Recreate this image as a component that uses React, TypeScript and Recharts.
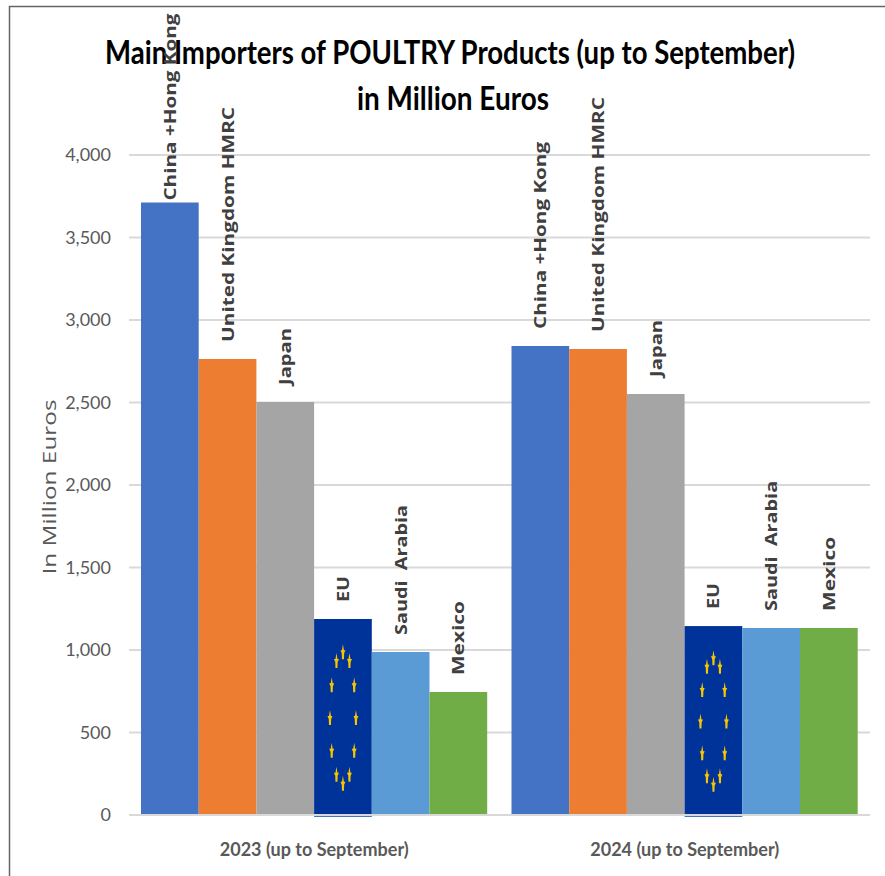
import React from 'react';
import { BarChart, Bar, XAxis, YAxis, CartesianGrid, LabelList } from 'recharts';

const PERIODS = ['2023 (up to September)', '2024 (up to September)'];
const CHINA = [3712, 2843];
const UK = [2764, 2824];
const JAPAN = [2503, 2552];
const EU = [1188, 1145];
const SAUDI = [988, 1134];
const MEXICO = [745, 1134];
const Y_TICKS = [0, 500, 1000, 1500, 2000, 2500, 3000, 3500, 4000];

const chartData = PERIODS.map((period, i) => ({
  period,
  china: CHINA[i],
  uk: UK[i],
  japan: JAPAN[i],
  eu: EU[i],
  saudi: SAUDI[i],
  mexico: MEXICO[i],
}));

const SERIES = [
  { key: 'china', name: 'China +Hong Kong', color: '#4472c4', labelLength: 187 },
  { key: 'uk', name: 'United Kingdom HMRC', color: '#ed7d31', labelLength: 235 },
  { key: 'japan', name: 'Japan', color: '#a5a5a5', labelLength: 57 },
  { key: 'eu', name: 'EU', color: '#003399', labelLength: 26 },
  { key: 'saudi', name: 'Saudi  Arabia', color: '#5b9bd5', labelLength: 130 },
  { key: 'mexico', name: 'Mexico', color: '#70ad47', labelLength: 74 },
];

// EU bar is filled with the flag: twelve stars stretched along an ellipse
const FlagBar = (props: any) => {
  const { x, y, width, height, fill } = props;
  const cx = x + width / 2;
  const cy = y + height / 2 + 1;
  const rx = width * 0.225;
  const ry = height * 0.335;
  const stars = Array.from({ length: 12 }, (_, i) => {
    const a = (i * Math.PI) / 6;
    return { sx: cx + rx * Math.sin(a), sy: cy - ry * Math.cos(a) };
  });
  return (
    <g>
      <rect x={x} y={y} width={width} height={height} fill={fill} />
      <rect x={x} y={y + height + 1} width={width} height={1} fill="#4472c4" />
      {stars.map((s, i) => (
        <polygon
          key={i}
          points={`${s.sx},${s.sy - 8} ${s.sx + 1},${s.sy - 2} ${s.sx + 2.5},${s.sy - 2} ${s.sx + 1.2},${s.sy + 1} ${s.sx + 1},${s.sy + 7} ${s.sx - 1},${s.sy + 7} ${s.sx - 1.2},${s.sy + 1} ${s.sx - 2.5},${s.sy - 2} ${s.sx - 1},${s.sy - 2}`}
          fill="#f7c600"
        />
      ))}
    </g>
  );
};

// rotated series names; the tallest bar's label sits tight against it so it stays on the page
const makeLabel = (s: (typeof SERIES)[number]) => (props: any) => {
  const { x, y, width, index } = props;
  const gap = s.key === 'china' && index === 0 ? 2 : 17;
  const lx = x + width / 2 + 6;
  const ly = y - gap;
  return (
    <text
      x={lx}
      y={ly}
      transform={`rotate(-90 ${lx} ${ly})`}
      fontFamily="Open Sans"
      fontWeight={700}
      fontSize={16}
      fill="#404040"
      textLength={s.labelLength}
      lengthAdjust="spacingAndGlyphs"
      style={{ whiteSpace: 'pre' }}
    >
      {s.name}
    </text>
  );
};

const PeriodTick = (props: any) => {
  const { x, y, payload } = props;
  return (
    <text
      x={x}
      y={y + 33}
      textAnchor="middle"
      fontFamily="Lato"
      fontWeight={700}
      fontSize={19}
      fill="#595959"
      textLength={189}
      lengthAdjust="spacingAndGlyphs"
    >
      {payload.value}
    </text>
  );
};

const AxisTitle = () => (
  <text
    x={56}
    y={487}
    transform="rotate(-90 56 487)"
    textAnchor="middle"
    fontFamily="Open Sans"
    fontSize={18}
    fill="#595959"
    textLength={175}
    lengthAdjust="spacingAndGlyphs"
  >
    In Million Euros
  </text>
);

export default function App() {
  return (
    <div style={{ position: 'absolute', left: 0, top: 0, width: 885, height: 876, background: '#fff' }}>
      <BarChart
        width={885}
        height={876}
        data={chartData}
        margin={{ top: 155, right: 15, bottom: 0, left: 0 }}
        barGap={0}
        barSize={57.7}
      >
        <CartesianGrid vertical={false} stroke="#d9d9d9" strokeWidth={2} />
        <XAxis
          dataKey="period"
          height={61}
          tick={<PeriodTick />}
          tickLine={false}
          axisLine={{ stroke: '#d9d9d9', strokeWidth: 2 }}
        />
        <YAxis
          width={129}
          domain={[0, 4000]}
          ticks={Y_TICKS}
          tickFormatter={(v: number) => v.toLocaleString('en-US')}
          tick={{ fill: '#595959', fontFamily: 'Lato', fontSize: 18 }}
          tickLine={false}
          axisLine={false}
          tickMargin={12}
        />
        {SERIES.map((s) => (
          <Bar
            key={s.key}
            dataKey={s.key}
            fill={s.color}
            isAnimationActive={false}
            shape={s.key === 'eu' ? <FlagBar /> : undefined}
          >
            <LabelList dataKey={s.key} content={makeLabel(s)} />
          </Bar>
        ))}
        <AxisTitle />
        <text
          x={450}
          y={64}
          textAnchor="middle"
          fontFamily="Lato"
          fontWeight={700}
          fontSize={33}
          fill="#000"
          textLength={690}
          lengthAdjust="spacingAndGlyphs"
        >
          Main Importers of POULTRY Products (up to September)
        </text>
        <text
          x={453}
          y={110}
          textAnchor="middle"
          fontFamily="Lato"
          fontWeight={700}
          fontSize={33}
          fill="#000"
          textLength={192}
          lengthAdjust="spacingAndGlyphs"
        >
          in Million Euros
        </text>
        <path d="M9.5 876 V6.5 H885" fill="none" stroke="#666" strokeWidth={1.5} />
      </BarChart>
    </div>
  );
}
